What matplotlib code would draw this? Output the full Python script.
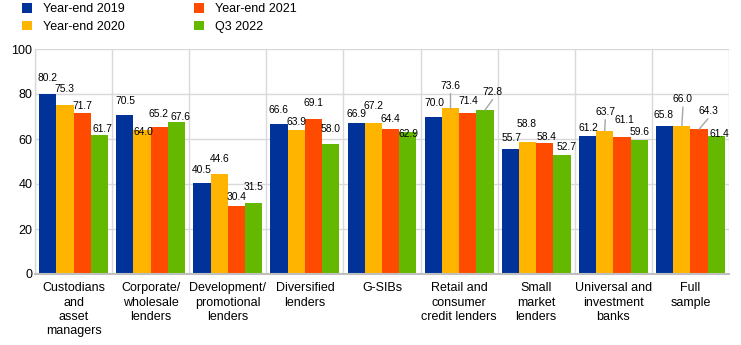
import matplotlib
matplotlib.use("Agg")
import matplotlib.pyplot as plt
import numpy as np

plt.rcParams['font.family'] = ['Liberation Sans', 'DejaVu Sans']

categories = [
    "Custodians\nand\nasset\nmanagers",
    "Corporate/\nwholesale\nlenders",
    "Development/\npromotional\nlenders",
    "Diversified\nlenders",
    "G-SIBs",
    "Retail and\nconsumer\ncredit lenders",
    "Small\nmarket\nlenders",
    "Universal and\ninvestment\nbanks",
    "Full\nsample",
]
series_names = ["Year-end 2019", "Year-end 2020", "Year-end 2021", "Q3 2022"]
ye2019 = [80.2, 70.5, 40.5, 66.6, 66.9, 70.0, 55.7, 61.2, 65.8]
ye2020 = [75.3, 64.0, 44.6, 63.9, 67.2, 73.6, 58.8, 63.7, 66.0]
ye2021 = [71.7, 65.2, 30.4, 69.1, 64.4, 71.4, 58.4, 61.1, 64.3]
q3_2022 = [61.7, 67.6, 31.5, 58.0, 62.9, 72.8, 52.7, 59.6, 61.4]
y_ticks = [0, 20, 40, 60, 80, 100]

colors = ["#003299", "#FFB400", "#FF4B00", "#65B800"]

# label placement (pixel offsets from bar top: dx, height of text centre)
label_nudge = [
    [(0, 15.5), (-1, 15.6), (0, 6.7), (3.5, 6.2)],
    [(0.3, 14.7), (1.8, -1.7), (-0.8, 13.3), (4, 4.6)],
    [(-0.1, 12.9), (0.7, 14.7), (0.5, 8.3), (-0.4, 15.8)],
    [(-0.1, 14), (0.6, 8.5), (0.4, 15.2), (-0.2, 14.8)],
    [(0.7, 9.5), (0.5, 17), (-0.1, 10), (0.4, -1.8)],
    [(0.9, 13.2), (0, 22.7), (0.8, 12.6), (7.6, 18.5)],
    [(1, 11), (-1.1, 17.7), (1.7, 6), (4.2, 8.7)],
    [(0.5, 8.6), (0.5, 19), (2.3, 16.5), (0.8, 8.2)],
    [(-0.7, 11), (1.1, 26.5), (8.9, 18.6), (2.7, 1.85)],
]

W, H = 741, 345
fig = plt.figure(figsize=(W / 100, H / 100), dpi=100)
ax = fig.add_axes([35 / W, (H - 274) / H, (729 - 35) / W, (274 - 49) / H])

x = np.arange(len(categories))
bw = 0.223
all_series = [ye2019, ye2020, ye2021, q3_2022]
for k, (vals, col, name) in enumerate(zip(all_series, colors, series_names)):
    xs = x + (k - 1.5) * bw
    ax.bar(xs, vals, width=bw, color=col, label=name, zorder=3,
           edgecolor='white', linewidth=0.0)
    for g, (xi, v) in enumerate(zip(xs, vals)):
        dx, d = label_nudge[g][k]
        ax.annotate(f"{v:.1f}", xy=(xi, v), xytext=(dx, d),
                    textcoords='offset pixels', ha='center', va='center',
                    fontsize=7.4, color='black', zorder=5)
        if d >= 18:
            ax.annotate("", xy=(xi, v), xytext=(dx, d - 8),
                        textcoords='offset pixels',
                        arrowprops=dict(arrowstyle='-', color='#a6a6a6',
                                        lw=1.0, shrinkA=0, shrinkB=0),
                        zorder=4)

ax.set_xlim(-0.5, len(categories) - 0.5)
ax.set_ylim(0, 100)
ax.set_yticks(y_ticks)
ax.set_yticklabels([str(t) for t in y_ticks], fontsize=9)
ax.set_xticks(x)
ax.set_xticklabels(categories, fontsize=9, linespacing=1.25)
ax.set_xticks(np.arange(len(categories) + 1) - 0.5, minor=True)
ax.tick_params(axis='both', which='both', length=0)
ax.tick_params(axis='x', pad=6)
ax.tick_params(axis='y', pad=2)

ax.grid(axis='y', color='#d9d9d9', linewidth=1.0, zorder=0)
ax.grid(axis='x', which='minor', color='#d9d9d9', linewidth=1.0, zorder=0)
ax.grid(axis='x', which='major', visible=False)

for s in ['top', 'right']:
    ax.spines[s].set_visible(False)
ax.spines['left'].set_color('#d9d9d9')
ax.spines['left'].set_linewidth(1.0)
ax.spines['bottom'].set_color('#bfbfbf')
ax.spines['bottom'].set_linewidth(1.5)
ax.spines['bottom'].set_zorder(4)

fig.legend(loc='upper left', bbox_to_anchor=(22 / W, 1 - 3 / H), ncol=2,
           frameon=False, fontsize=9, handlelength=0.8, handleheight=0.8,
           handletextpad=0.9, columnspacing=5.5, labelspacing=0.45,
           borderpad=0.0, borderaxespad=0.0)

fig.savefig("out.png", dpi=100)
